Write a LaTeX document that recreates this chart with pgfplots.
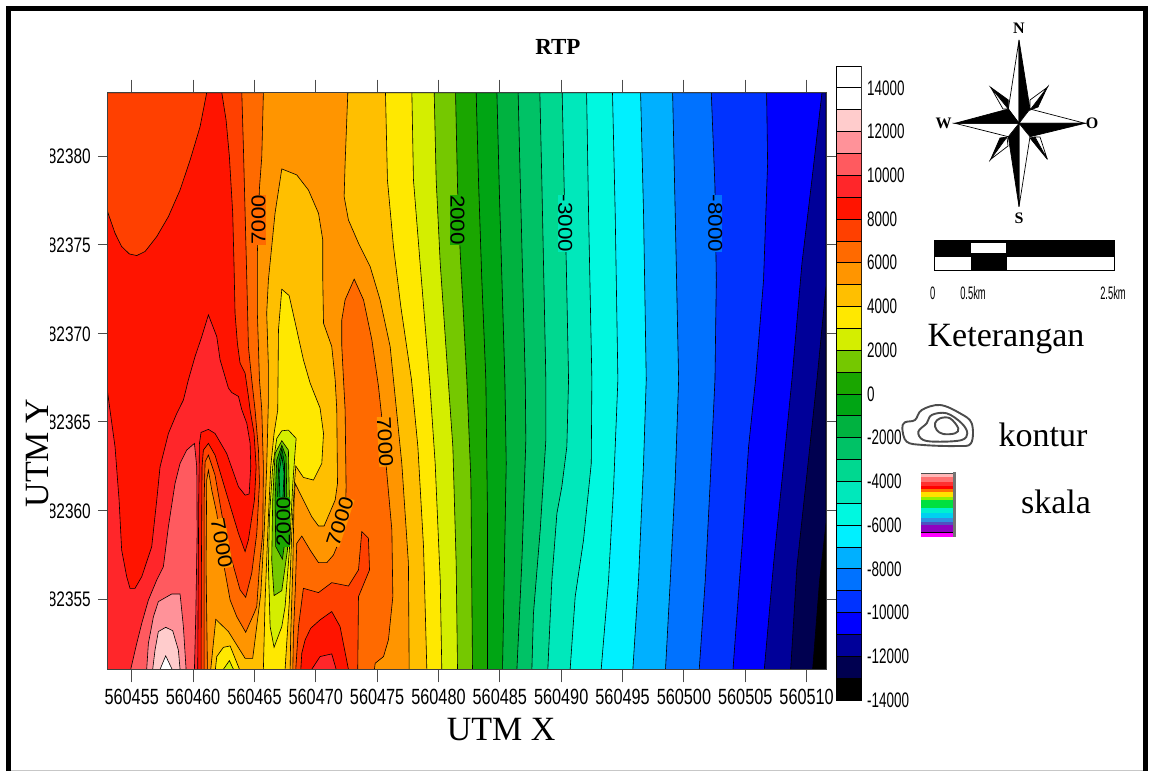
\documentclass[border=0pt]{standalone}
\usepackage{fontspec}
\setmainfont{Liberation Serif}
\newfontfamily\ar{Liberation Sans}
\usepackage{graphicx}
\usepackage{pgfplots}
\pgfplotsset{compat=1.18}
\definecolor{zw}{HTML}{FFFFFF}\definecolor{zpa}{HTML}{FFCCCC}\definecolor{zpb}{HTML}{FF9299}\definecolor{zpc}{HTML}{FF5A5F}
\definecolor{zra}{HTML}{FF262A}\definecolor{zrb}{HTML}{FF1400}\definecolor{zoa}{HTML}{FF4000}\definecolor{zob}{HTML}{FF6A00}
\definecolor{zoc}{HTML}{FF9500}\definecolor{zod}{HTML}{FFBF00}\definecolor{zya}{HTML}{FFE800}\definecolor{zyb}{HTML}{D4EE00}
\definecolor{zga}{HTML}{75C800}\definecolor{zgb}{HTML}{1AA600}\definecolor{zgc}{HTML}{00A514}\definecolor{zgd}{HTML}{00B240}
\definecolor{zge}{HTML}{00C266}\definecolor{zgf}{HTML}{00D890}\definecolor{zgg}{HTML}{00E8BB}\definecolor{zta}{HTML}{00F8E0}
\definecolor{ztb}{HTML}{00F0FF}\definecolor{zba}{HTML}{00B0FF}\definecolor{zbb}{HTML}{0072FF}\definecolor{zbc}{HTML}{0033FF}
\definecolor{zbd}{HTML}{0000FF}\definecolor{zbe}{HTML}{000099}\definecolor{zbf}{HTML}{000050}\definecolor{zk}{HTML}{000000}
\newcommand{\reg}[2]{\addplot[fill=#1,draw=black,line width=0.6pt] coordinates {#2} -- cycle;}
\newcommand{\cb}[3]{\addplot[fill=#1,draw=black,line width=0.8pt] coordinates {(0,#2)(1,#2)(1,#3)(0,#3)} -- cycle;}
\newcommand{\xl}[1]{\scalebox{0.74}[1]{#1}}
\newcommand{\yl}[1]{\makebox[43pt][r]{\scalebox{0.735}[1]{#1}}\llap{\makebox[43pt][l]{\color{white}\rule[-3pt]{2.6pt}{22pt}}}}
\newcommand{\cl}[1]{\scalebox{0.64}[1]{#1}}
\newcommand{\lab}[5]{\node[rotate=#3,fill=#4,inner sep=0pt,font=\ar\fontsize{20}{20}\selectfont] at (axis cs:#1,#2) {\scalebox{1.12}[1]{#5}};}
\begin{document}
\begin{tikzpicture}[x=1pt,y=-1pt]
\path[use as bounding box] (0pt,0pt) rectangle (1150pt,-771pt);
\begin{axis}[
  at={(107.3pt,-669.3pt)},anchor=south west,scale only axis,width=718.7pt,height=576.6pt,
  xmin=53.01,xmax=111.58,ymin=51.03,ymax=83.57,
  xtick={55,60,...,110},
  xticklabels={\xl{560455},\xl{560460},\xl{560465},\xl{560470},\xl{560475},\xl{560480},\xl{560485},\xl{560490},\xl{560495},\xl{560500},\xl{560505},\xl{560510}},
  ytick={55,60,...,80},
  yticklabels={\yl{82355},\yl{82360},\yl{82365},\yl{82370},\yl{82375},\yl{82380}},
  tick align=outside,major tick length=13pt,
  ytick style={/pgfplots/major tick length=9.5pt},
  tick style={black!70,line width=0.9pt},
  axis line style={black!75,line width=0.9pt},
  axis on top,
  yticklabel style={font=\ar\fontsize{21}{21}\selectfont},
  xticklabel style={font=\ar\fontsize{22}{22}\selectfont,yshift=-3.5pt},
  xlabel={UTM X},ylabel={UTM Y},title={\textbf{RTP}},
  every axis x label/.style={at={(axis description cs:0.548,-0.105)},anchor=center,font=\fontsize{34}{34}\selectfont},
  every axis y label/.style={at={(axis description cs:-0.0964,0.375)},anchor=center,rotate=90,font=\fontsize{34}{34}\selectfont},
  every axis title/.style={at={(axis description cs:0.627,1.079)},anchor=center,font=\fontsize{23}{23}\selectfont},
]
% base level 5000-6000
\reg{zoc}{(53.01,51.03)(111.58,51.03)(111.58,83.57)(53.01,83.57)}
% eastern bands, each region lies east of its contour
\reg{zod}{(72.61,83.57)(72.39,79.59)(72.31,77.71)(72.66,76.39)(73.48,75.08)(74.43,73.76)(75.24,71.88)(76.06,69.25)(76.33,67.37)(77.01,62.65)(77.55,57.01)(77.61,51.03)(111.58,51.03)(111.58,83.57)}
\reg{zya}{(75.68,83.57)(75.84,78.65)(76.33,74.89)(76.93,71.5)(77.8,67.37)(78.32,63.59)(78.78,57.95)(79.05,51.03)(111.58,51.03)(111.58,83.57)}
\reg{zyb}{(77.83,83.57)(77.96,78.65)(78.5,73.95)(79.27,67.37)(79.73,62.65)(80.14,56.07)(80.27,51.03)(111.58,51.03)(111.58,83.57)}
\reg{zga}{(79.65,83.57)(79.81,78.65)(80.14,73.95)(80.79,67.37)(81.17,63.59)(81.44,57.01)(81.55,51.03)(111.58,51.03)(111.58,83.57)}
\reg{zgb}{(81.39,83.57)(81.55,78.27)(81.77,74.51)(82.31,67.37)(82.64,61.71)(82.77,51.03)(111.58,51.03)(111.58,83.57)}
\reg{zgc}{(83.07,83.57)(83.26,78.65)(83.53,73.01)(83.86,67.37)(83.99,59.83)(83.99,51.03)(111.58,51.03)(111.58,83.57)}
\reg{zgd}{(84.76,83.57)(84.97,77.71)(85.41,67.37)(85.52,62.65)(85.35,56.07)(85.22,51.03)(111.58,51.03)(111.58,83.57)}
\reg{zge}{(86.49,83.57)(86.66,78.65)(87.07,67.37)(87.12,63.97)(86.79,57.01)(86.39,51.03)(111.58,51.03)(111.58,83.57)}
\reg{zgf}{(88.26,83.57)(88.42,78.65)(88.75,67.37)(88.75,63.97)(88.29,58.89)(87.74,54.19)(87.61,51.03)(111.58,51.03)(111.58,83.57)}
\reg{zgg}{(90.08,83.57)(90.24,78.27)(90.41,74.04)(90.6,67.37)(90.46,63.59)(90.05,61.33)(89.65,59.83)(89.24,56.07)(88.91,51.03)(111.58,51.03)(111.58,83.57)}
\reg{zta}{(92.07,83.57)(92.23,76.77)(92.5,67.37)(92.45,62.65)(91.82,58.33)(91.14,55.13)(90.73,51.03)(111.58,51.03)(111.58,83.57)}
\reg{ztb}{(94.18,83.57)(94.4,76.77)(94.62,67.37)(94.27,61.33)(93.86,56.07)(93.26,51.03)(111.58,51.03)(111.58,83.57)}
\reg{zba}{(96.47,83.57)(96.71,76.77)(96.93,67.37)(96.71,62.65)(96.3,56.07)(95.84,51.03)(111.58,51.03)(111.58,83.57)}
\reg{zbb}{(99.08,83.57)(99.29,76.77)(99.57,67.37)(99.29,61.71)(98.89,56.07)(98.5,51.03)(111.58,51.03)(111.58,83.57)}
\reg{zbc}{(102.23,83.57)(102.53,78.27)(102.64,73.01)(102.53,67.37)(102.15,61.71)(101.74,56.07)(101.25,51.03)(111.58,51.03)(111.58,83.57)}
\reg{zbd}{(106.74,83.57)(106.82,79.59)(106.49,73.01)(105.84,67.37)(105.27,63.59)(104.73,57.95)(104.0,51.03)(111.58,51.03)(111.58,83.57)}
\reg{zbe}{(111.25,83.57)(110.43,78.65)(109.62,73.95)(108.8,67.37)(108.13,62.65)(107.31,57.01)(106.55,51.03)(111.58,51.03)(111.58,83.57)}
\reg{zbf}{(111.58,72.63)(110.84,67.37)(110.03,62.09)(109.21,56.82)(108.7,51.03)(111.58,51.03)}
\reg{zk}{(111.58,59.27)(111.06,56.07)(110.49,51.03)(111.58,51.03)}
% western nested levels
\reg{zob}{(53.01,83.57)(65.73,83.57)(65.6,79.96)(65.41,78.18)(65.24,74.51)(65.24,71.13)(65.41,67.37)(65.6,65.66)(65.73,62.46)(65.68,58.7)(65.41,56.82)(65.19,54.57)(64.97,54.19)(64.29,53.12)(63.56,54.0)(63.02,54.94)(62.53,56.82)(61.93,59.83)(61.52,61.15)(61.25,62.27)(61.11,61.71)(61.06,56.82)(61.17,51.03)(53.01,51.03)}
\reg{zoa}{(53.01,83.57)(63.97,83.57)(64.1,80.53)(64.24,76.77)(64.38,73.01)(64.51,69.25)(64.78,67.37)(65.05,65.68)(65.33,63.4)(65.41,61.52)(65.19,58.7)(64.78,56.45)(64.29,55.09)(63.83,55.51)(63.15,57.2)(62.47,59.27)(61.79,61.99)(61.25,63.12)(60.98,62.74)(60.9,60.58)(60.9,51.03)(53.01,51.03)}
\reg{zrb}{(53.01,83.57)(62.34,83.57)(62.69,82.03)(62.96,79.96)(63.23,76.77)(63.34,73.76)(63.42,71.13)(63.61,69.44)(63.83,68.31)(64.24,67.74)(64.51,66.43)(64.65,65.66)(64.97,64.34)(65.14,62.46)(65.0,60.58)(64.51,58.33)(64.24,57.67)(63.7,58.7)(62.88,60.58)(61.79,63.12)(61.25,63.78)(60.84,63.4)(60.73,62.46)(60.68,56.82)(60.65,51.03)(53.01,51.03)}
\reg{zoa}{(53.01,83.57)(61.11,83.57)(60.57,81.65)(59.76,79.77)(58.94,78.08)(57.99,76.58)(57.04,75.45)(56.09,74.61)(55.41,74.38)(54.81,74.47)(54.18,74.89)(53.64,75.64)(53.01,76.9)}
\reg{zra}{(53.01,66.79)(53.23,65.66)(53.64,63.59)(53.97,60.58)(54.18,57.76)(54.59,56.26)(54.86,55.6)(55.27,55.6)(55.82,56.26)(56.63,57.95)(57.04,60.58)(57.31,62.46)(57.99,64.34)(58.67,65.47)(59.21,66.22)(59.62,67.37)(60.16,68.68)(60.71,69.81)(61.25,71.03)(61.93,69.81)(62.2,68.5)(62.88,66.9)(63.15,66.65)(63.7,66.43)(63.97,65.68)(64.38,64.91)(64.65,63.78)(64.7,62.46)(64.57,60.92)(64.24,60.86)(63.7,61.33)(62.74,63.21)(61.79,64.34)(61.25,64.57)(60.65,64.4)(60.52,63.78)(60.46,60.58)(60.41,54.94)(60.38,51.03)(53.01,51.03)}
\reg{zpc}{(60.11,63.78)(60.3,62.46)(60.33,58.7)(60.22,54.0)(60.11,51.03)(54.92,51.03)(55.41,52.5)(55.82,53.63)(56.36,54.94)(57.04,56.07)(57.58,56.82)(57.99,59.08)(58.53,61.52)(58.94,62.65)(59.48,63.4)}
\reg{zpb}{(57.17,54.85)(58.26,55.28)(58.94,55.28)(59.21,53.44)(59.43,51.03)(56.22,51.03)(56.36,52.5)(56.77,54.0)}
\reg{zpa}{(57.17,53.16)(57.77,53.4)(58.34,53.21)(58.8,52.12)(58.94,51.03)(56.71,51.03)(56.9,52.12)}
\reg{zw}{(57.77,51.79)(57.31,51.03)(58.29,51.03)}
% central ridge and trough
\reg{zod}{(67.23,79.27)(68.45,78.93)(69.4,78.08)(70.22,76.77)(70.57,75.26)(70.57,73.01)(70.63,70.56)(71.3,69.25)(71.58,67.37)(71.71,65.68)(71.77,61.52)(71.58,60.58)(70.68,59.12)(70.22,59.12)(69.67,59.64)(68.99,60.58)(68.32,61.52)(68.23,60.58)(68.13,56.82)(67.96,53.06)(67.91,51.03)(61.44,51.03)(61.85,53.85)(62.88,53.16)(64.24,51.65)(64.86,51.65)(65.05,52.69)(65.52,55.32)(65.79,58.7)(66.0,62.46)(66.14,66.22)(66.14,68.12)(66.0,71.13)(66.14,73.01)(66.68,76.77)}
\reg{zya}{(67.23,72.48)(67.83,72.12)(68.45,70.19)(68.99,68.5)(69.54,67.18)(70.35,65.77)(70.63,64.34)(70.49,62.65)(69.81,61.71)(68.99,61.86)(68.37,62.5)(68.26,61.52)(68.04,58.7)(67.85,54.94)(67.5,51.03)(65.73,51.03)(65.87,54.94)(66.14,59.64)(66.33,62.46)(66.6,64.34)(66.9,65.66)(66.96,70.19)}
\reg{zyb}{(67.23,64.49)(67.77,64.53)(68.4,64.06)(68.32,63.4)(68.13,61.52)(67.85,57.76)(67.5,54.57)(67.23,53.44)(66.6,52.27)(66.28,53.44)(66.14,56.82)(66.22,59.64)(66.49,62.46)(66.82,64.06)}
\reg{zga}{(67.23,63.93)(67.77,63.4)(67.85,60.58)(67.69,57.76)(67.23,55.47)(66.6,55.19)(66.41,57.2)(66.49,60.58)(66.68,63.21)}
\reg{zgb}{(67.23,63.68)(67.58,63.03)(67.64,60.58)(67.5,58.33)(67.28,57.24)(66.74,57.95)(66.68,60.58)(66.82,62.84)}
\reg{zgc}{(67.23,63.5)(67.45,62.65)(67.45,60.58)(67.31,58.7)(66.96,58.7)(66.88,60.58)(66.98,62.65)}
\reg{zgd}{(67.23,63.12)(67.42,62.08)(67.31,60.58)(67.09,60.58)(67.01,62.08)}
\reg{zob}{(73.13,73.05)(72.39,71.88)(72.12,70.75)(72.12,69.25)(72.26,67.37)(72.39,65.68)(72.47,61.33)(72.39,59.08)(71.44,57.48)(70.9,57.05)(70.22,57.05)(69.54,57.76)(68.86,58.55)(68.45,58.14)(68.34,55.7)(68.18,53.06)(68.13,51.03)(74.78,51.03)(74.84,51.37)(75.52,51.75)(75.92,52.69)(76.28,55.13)(76.2,58.89)(75.79,62.09)(75.52,64.34)(75.3,65.75)(75.11,66.99)(74.57,69.62)(73.89,71.88)}
\reg{zoa}{(68.37,51.03)(68.59,53.44)(68.99,55.6)(70.22,55.36)(71.3,55.92)(72.66,55.73)(73.48,56.64)(73.75,58.8)(74.29,58.43)(74.38,56.64)(73.48,55.13)(73.42,51.03)}
\reg{zrb}{(68.78,51.03)(68.86,51.94)(69.13,52.69)(69.59,53.35)(70.35,53.82)(71.3,54.29)(71.98,53.44)(72.66,51.03)}
\reg{zra}{(69.67,51.03)(70.35,51.75)(71.3,51.9)(71.66,51.03)}
\reg{zya}{(61.82,51.03)(61.93,51.75)(62.47,52.27)(63.02,52.35)(63.78,51.03)}
\reg{zyb}{(62.47,51.03)(62.96,51.52)(63.29,51.03)}
% contour labels
\lab{65.33}{76.39}{90}{zob}{7000}
\lab{81.55}{76.39}{-90}{zgb}{2000}
\lab{90.33}{76.2}{-90}{zgg}{-3000}
\lab{102.55}{76.2}{-90}{zbb}{-8000}
\lab{75.65}{63.87}{-87}{zoc}{7000}
\lab{71.98}{59.36}{72}{zoc}{7000}
\lab{67.36}{59.36}{90}{zgb}{2000}
\lab{62.34}{58.14}{-80}{zoc}{7000}
\end{axis}
% colour scale
\begin{axis}[
  at={(836.7pt,-700pt)},anchor=south west,scale only axis,width=25pt,height=634pt,
  xmin=0,xmax=1,ymin=-14000,ymax=15000,xtick=\empty,
  scaled y ticks=false,
  ytick={-14000,-12000,...,14000},
  yticklabels={\cl{-14000},\cl{-12000},\cl{-10000},\cl{-8000},\cl{-6000},\cl{-4000},\cl{-2000},\cl{0},\cl{2000},\cl{4000},\cl{6000},\cl{8000},\cl{10000},\cl{12000},\cl{14000}},
  yticklabel pos=right,major tick length=0pt,
  yticklabel style={anchor=west,xshift=2pt,font=\ar\fontsize{21}{21}\selectfont},
  axis line style={black,line width=0.8pt},
]
\cb{zk}{-14000}{-13000}\cb{zbf}{-13000}{-12000}\cb{zbe}{-12000}{-11000}\cb{zbd}{-11000}{-10000}\cb{zbc}{-10000}{-9000}
\cb{zbb}{-9000}{-8000}\cb{zba}{-8000}{-7000}\cb{ztb}{-7000}{-6000}\cb{zta}{-6000}{-5000}\cb{zgg}{-5000}{-4000}
\cb{zgf}{-4000}{-3000}\cb{zge}{-3000}{-2000}\cb{zgd}{-2000}{-1000}\cb{zgc}{-1000}{0}\cb{zgb}{0}{1000}
\cb{zga}{1000}{2000}\cb{zyb}{2000}{3000}\cb{zya}{3000}{4000}\cb{zod}{4000}{5000}\cb{zoc}{5000}{6000}
\cb{zob}{6000}{7000}\cb{zoa}{7000}{8000}\cb{zrb}{8000}{9000}\cb{zra}{9000}{10000}\cb{zpc}{10000}{11000}
\cb{zpb}{11000}{12000}\cb{zpa}{12000}{13000}\cb{zw}{13000}{14000}\cb{zw}{14000}{15000}
\end{axis}
% frame
\draw[black!22,line width=1pt] (10,770.3)--(1143,770.3);
\draw[black,line width=5pt] (8.2,771)--(8.2,8.5)--(1145.5,8.5)--(1145.5,771);
% compass
\begin{scope}[line width=0.7pt,draw=black]
\coordinate (c) at (1019,123.3);
\filldraw[fill=white] (c)--(1019,40)--(1008.3,109)--cycle;
\filldraw[fill=black] (c)--(1019,40)--(1030,109)--cycle;
\filldraw[fill=white] (c)--(1085,123.3)--(1030,109)--cycle;
\filldraw[fill=black] (c)--(1085,123.3)--(1030,136.7)--cycle;
\filldraw[fill=white] (c)--(1019,206.7)--(1030,136.7)--cycle;
\filldraw[fill=black] (c)--(1019,206.7)--(1008.3,136.7)--cycle;
\filldraw[fill=white] (c)--(955,123.3)--(1008.3,136.7)--cycle;
\filldraw[fill=black] (c)--(955,123.3)--(1008.3,109)--cycle;
\filldraw[fill=black] (990.7,87.3)--(1008.3,100)--(1008.3,109)--cycle;
\filldraw[fill=white] (990.7,87.3)--(1003,109)--(1008.3,109)--cycle;
\filldraw[fill=black] (1047.3,87.3)--(1038,107)--(1030,110)--cycle;
\filldraw[fill=white] (1047.3,87.3)--(1030,100)--(1030,110)--cycle;
\filldraw[fill=black] (990.7,159.3)--(1007,137)--(1000,138)--cycle;
\filldraw[fill=white] (990.7,159.3)--(1007,137)--(1008,146)--cycle;
\filldraw[fill=black] (1047.3,159.3)--(1030,138)--(1035,137)--cycle;
\filldraw[fill=white] (1047.3,159.3)--(1040,137)--(1035,137)--cycle;
\end{scope}
\node[font=\bfseries\fontsize{16}{16}\selectfont] at (1019,28) {N};
\node[font=\bfseries\fontsize{16}{16}\selectfont] at (1019,218) {S};
\node[font=\bfseries\fontsize{16}{16}\selectfont] at (943.5,123) {W};
\node[font=\bfseries\fontsize{16}{16}\selectfont] at (1092,123) {O};
% scale bar
\fill[black] (934,240.7) rectangle (1114.3,257.3);
\fill[white] (970.7,243) rectangle (1006,253.3);
\fill[white] (934,257.3) rectangle (1114.3,270);
\fill[black] (970.7,257.3) rectangle (1007,270);
\draw[black,line width=0.7pt] (934,240.7) rectangle (1114.3,270);
\node[font=\ar\fontsize{18}{18}\selectfont] at (932.7,293) {\scalebox{0.52}[1]{0}};
\node[font=\ar\fontsize{18}{18}\selectfont] at (973,293) {\scalebox{0.52}[1]{0.5km}};
\node[font=\ar\fontsize{18}{18}\selectfont] at (1113,293) {\scalebox{0.52}[1]{2.5km}};
\node[font=\fontsize{34}{34}\selectfont] at (1006,339.5) {Keterangan};
% contour icon
\draw[black!70,line width=1.9pt] plot[smooth cycle,tension=0.6] coordinates {(902.3,428.3)(905,422.3)(915,420)(921.7,410)(940,405)(960,413.3)(971.7,423.3)(971,443.3)(956.7,446)(923.3,445)(906.7,441.7)};
\draw[black!70,line width=1.9pt] plot[smooth cycle,tension=0.6] coordinates {(918.3,431.7)(926.7,423.3)(931.7,415)(946.7,413.3)(961.7,423.3)(967.3,433.3)(961.7,440)(940,441.7)(923.3,440)};
\draw[black!70,line width=1.9pt] plot[smooth cycle,tension=0.6] coordinates {(935,423.3)(940,418.3)(950,418.3)(958.3,428.3)(955,433.3)(943.3,434)(936.7,430)};
\node[font=\fontsize{34}{34}\selectfont] at (1043,435) {kontur};
% skala icon
\foreach \ya/\yb/\hc in {473.3/477.3/FFB8B8,477.3/481.7/FF7070,481.7/486/FF3030,486/489.3/FF0000,489.3/491.7/FF7000,491.7/496.7/FFE000,496.7/500/90F000,500/508.3/00E040,508.3/513.3/00F0D0,513.3/518.3/00D0F0,518.3/521.7/3090E0,521.7/525/5050C0,525/531.7/9000C0,531.7/537.3/FF00FF}{
  \definecolor{tmpc}{HTML}{\hc}
  \fill[tmpc] (921,\ya) rectangle (952.7,\yb);
}
\fill[black!55] (952.7,471.5) rectangle (955.5,537.3);
\draw[black!70,line width=0.6pt] (921,473.3)--(952.7,473.3);
\draw[black,line width=0.5pt] (921,532.3)--(952.7,532.3);
\node[font=\fontsize{34}{34}\selectfont] at (1056,502) {skala};
\end{tikzpicture}
\end{document}
